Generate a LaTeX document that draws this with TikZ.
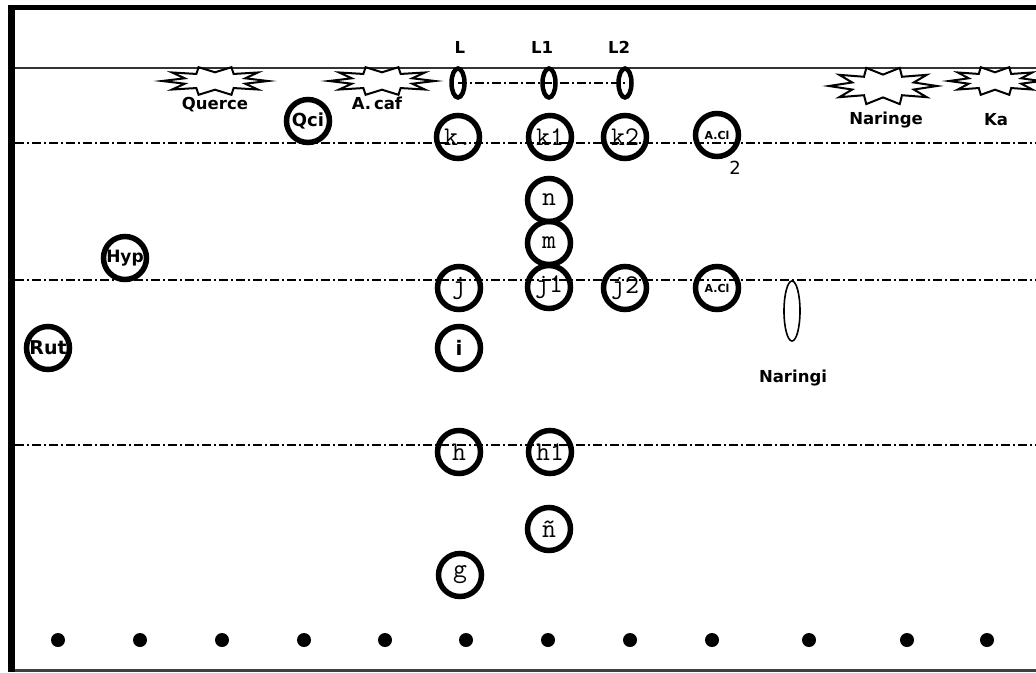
\documentclass[tikz,border=0pt]{standalone}
\usepackage{fontspec}
\setmainfont{DejaVu Sans}
\usetikzlibrary{shapes.geometric}
\newcommand\burstpath{(0.5,0) -- (0.285,0.093) -- (0.405,0.294) -- (0.176,0.243) -- (0.155,0.476) -- (0,0.3) -- (-0.155,0.476) -- (-0.176,0.243) -- (-0.405,0.294) -- (-0.285,0.093) -- (-0.5,0) -- (-0.285,-0.093) -- (-0.405,-0.294) -- (-0.176,-0.243) -- (-0.155,-0.476) -- (0,-0.3) -- (0.155,-0.476) -- (0.176,-0.243) -- (0.405,-0.294) -- (0.285,-0.093) -- cycle}
\begin{document}
\begin{tikzpicture}[x=1pt,y=-1pt,
  ring/.style={circle,draw,line width=5.5pt,minimum size=43pt,inner sep=0pt,
    font=\ttfamily\fontsize{27}{27}\selectfont},
  bring/.style={ring,font=\bfseries\fontsize{17}{17}\selectfont},
  sring/.style={ring,font=\bfseries\fontsize{11}{11}\selectfont},
  lbl/.style={inner sep=0pt,font=\bfseries\fontsize{16.5}{16.5}\selectfont},
  lens/.style={ellipse,draw,line width=4.5pt,minimum width=13pt,minimum height=29pt,inner sep=0pt},
  dashdot/.style={line width=1.3pt,dash pattern=on 9pt off 3pt on 2pt off 3pt},
  burst/.style={draw,line width=2pt,line join=miter},
  dot/.style={circle,fill,minimum size=14pt,inner sep=0pt}]
\useasboundingbox (0,0) rectangle (1036,672);
\clip (0,0) rectangle (1036,672);
% frame
\draw[line width=5pt] (8,7.5) -- (1036,7.5);
\draw[line width=7pt] (11.5,5) -- (11.5,672);
\draw[line width=3pt,black!75] (15,670) -- (1036,670);
\draw[line width=2pt,black!80] (15,67.5) -- (1036,67.5);
% dash-dot lines
\draw[dashdot] (15,143) -- (1036,143);
\draw[dashdot] (15,280) -- (1036,280);
\draw[dashdot] (15,445) -- (1036,445);
% bursts
\draw[burst,shift={(215,81)},xscale=106,yscale=29] \burstpath;
\draw[burst,shift={(382,81)},xscale=106,yscale=29] \burstpath;
\draw[burst,shift={(883,86)},xscale=108,yscale=38] \burstpath;
\draw[burst,shift={(995,81)},xscale=92,yscale=29] \burstpath;
\node[lbl] (querce) at (215,105) {Querce};
\node[lbl] (acaf) at (377,103) {A.\,caf};
\node[lbl] (naringe) at (886,120) {Naringe};
\node[lbl] (ka) at (996,120) {Ka};
% L labels and lenses
\node[lbl] (tL) at (460,47) {L};
\node[lbl] (tL1) at (542,47) {L1};
\node[lbl] (tL2) at (619,47) {L2};
\node[lens] (oL) at (458,83) {};
\node[lens] (oL1) at (549,83) {};
\node[lens] (oL2) at (625,83) {};
\draw[dashdot] (oL.center) -- (oL1.center) -- (oL2.center);
% rings
\node[ring] (k) at (458,137) {k.};
\node[ring] (k1) at (550,137) {k1};
\node[ring] (k2) at (625,137) {k2};
\node[sring] (acl1) at (717,135) {A.Cl};
\node[font=\fontsize{18}{18}\selectfont,inner sep=0pt] (two) at (735,168) {2};
\node[bring,font=\bfseries\fontsize{18}{18}\selectfont] (qci) at (308,121) {Qci};
\node[ring] (n) at (549,200) {n};
\node[ring] (m) at (549,243) {m};
\node[ring] (j1) at (549,287) {j1};
\node[ring] (j) at (459,288) {j};
\node[ring] (j2) at (625,288) {j2};
\node[sring] (acl2) at (717,288) {A.Cl};
\node[bring] (hyp) at (125,258) {Hyp};
\node[bring,font=\bfseries\fontsize{19}{19}\selectfont] (rut) at (48,348) {Rut};
\node[bring,font=\bfseries\fontsize{20}{20}\selectfont] (i) at (459,348) {i};
\node[ring] (h) at (459,452) {h};
\node[ring] (h1) at (550,452) {h1};
\node[ring] (nn) at (549,529) {ñ};
\node[ring] (g) at (460,575) {g};
% Naringi
\node[ellipse,draw,line width=1.6pt,minimum width=16pt,minimum height=60pt,inner sep=0pt] (naringi) at (792,311) {};
\node[lbl] (naringil) at (793,378) {Naringi};
% dots
\foreach \x [count=\c] in {58,140,222,304,385,466,548,630,712,809,907,987}
  \node[dot] (d\c) at (\x,640) {};
\end{tikzpicture}
\end{document}
